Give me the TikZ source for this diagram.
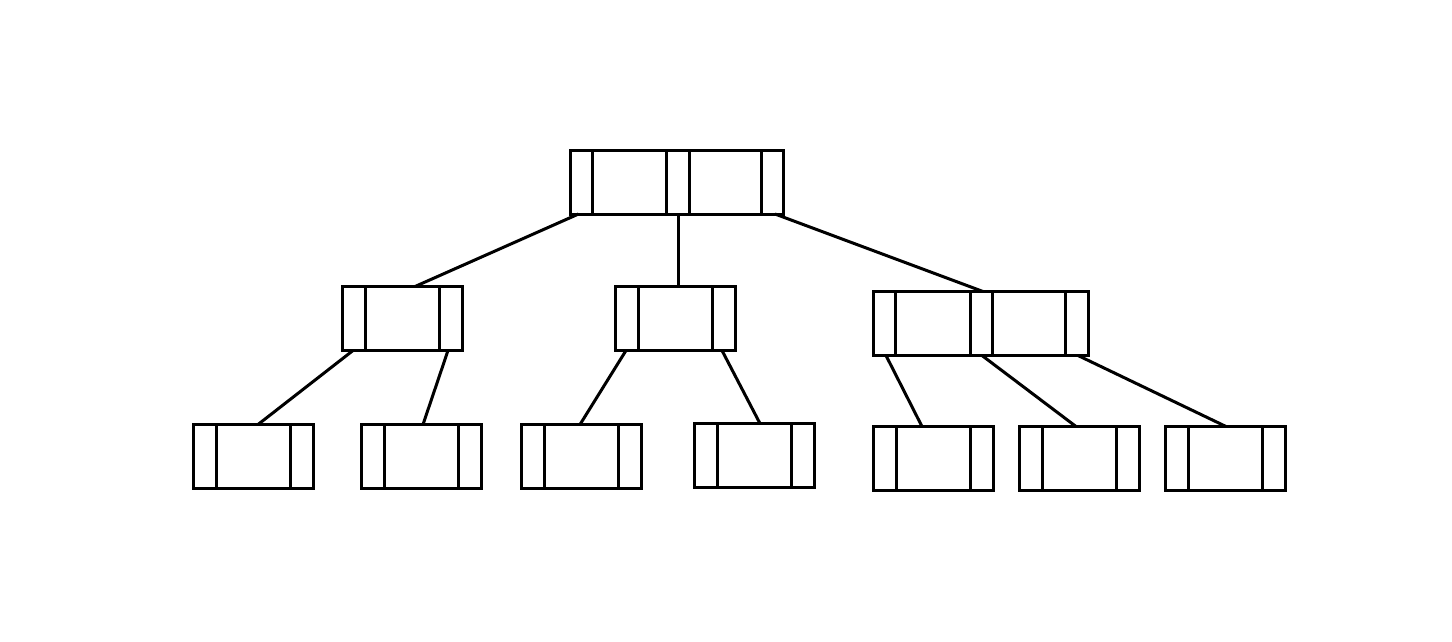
\documentclass[tikz,border=0pt]{standalone}
\begin{document}
\begin{tikzpicture}[x=1pt,y=-1pt,line width=3pt,
  bbox/.style={draw,rectangle,inner sep=0pt,outer sep=0pt,minimum height=64pt,line width=3pt},
  edge/.style={line width=3pt}]
\useasboundingbox (0,0) rectangle (1452,641);
% root
\node[bbox,minimum width=213pt] (r) at (677,182) {};
\foreach \d in {22,96,119,191} \draw ([xshift=\d pt]r.north west) -- ([xshift=\d pt]r.south west);
% level 2
\node[bbox,minimum width=120pt] (a) at (402.5,318.5) {};
\node[bbox,minimum width=120pt] (b) at (675.5,318.5) {};
\node[bbox,minimum width=215pt] (c) at (981,323.5) {};
\foreach \n in {a,b} \foreach \d in {23,97} \draw ([xshift=\d pt]\n.north west) -- ([xshift=\d pt]\n.south west);
\foreach \d in {22,97,119,192} \draw ([xshift=\d pt]c.north west) -- ([xshift=\d pt]c.south west);
% leaves
\node[bbox,minimum width=120pt] (l1) at (253.5,456.5) {};
\node[bbox,minimum width=120pt] (l2) at (421.5,456.5) {};
\node[bbox,minimum width=120pt] (l3) at (581.5,456.5) {};
\node[bbox,minimum width=120pt] (l4) at (754.5,455.5) {};
\node[bbox,minimum width=120pt] (l5) at (933.5,458.5) {};
\node[bbox,minimum width=120pt] (l6) at (1079.5,458.5) {};
\node[bbox,minimum width=120pt] (l7) at (1225.5,458.5) {};
\foreach \n in {l1,l2,l3,l4,l5,l6,l7} \foreach \d in {23,97} \draw ([xshift=\d pt]\n.north west) -- ([xshift=\d pt]\n.south west);
% edges
\draw[edge] ([xshift=8pt]r.south west) -- ([xshift=12.5pt]a.north);
\draw[edge] ([xshift=108pt]r.south west) -- ([xshift=3pt]b.north);
\draw[edge] ([xshift=204.5pt]r.south west) -- ([xshift=2pt]c.north);
\draw[edge] ([xshift=10.5pt]a.south west) -- ([xshift=4.5pt]l1.north);
\draw[edge] ([xshift=105.5pt]a.south west) -- ([xshift=1.5pt]l2.north);
\draw[edge] ([xshift=10.5pt]b.south west) -- ([xshift=-1.5pt]l3.north);
\draw[edge] ([xshift=106.5pt]b.south west) -- ([xshift=5.5pt]l4.north);
\draw[edge] ([xshift=12.5pt]c.south west) -- ([xshift=-11.5pt]l5.north);
\draw[edge] ([xshift=108.5pt]c.south west) -- ([xshift=-3.5pt]l6.north);
\draw[edge] ([xshift=204.5pt]c.south west) -- ([xshift=0.5pt]l7.north);
\end{tikzpicture}
\end{document}
